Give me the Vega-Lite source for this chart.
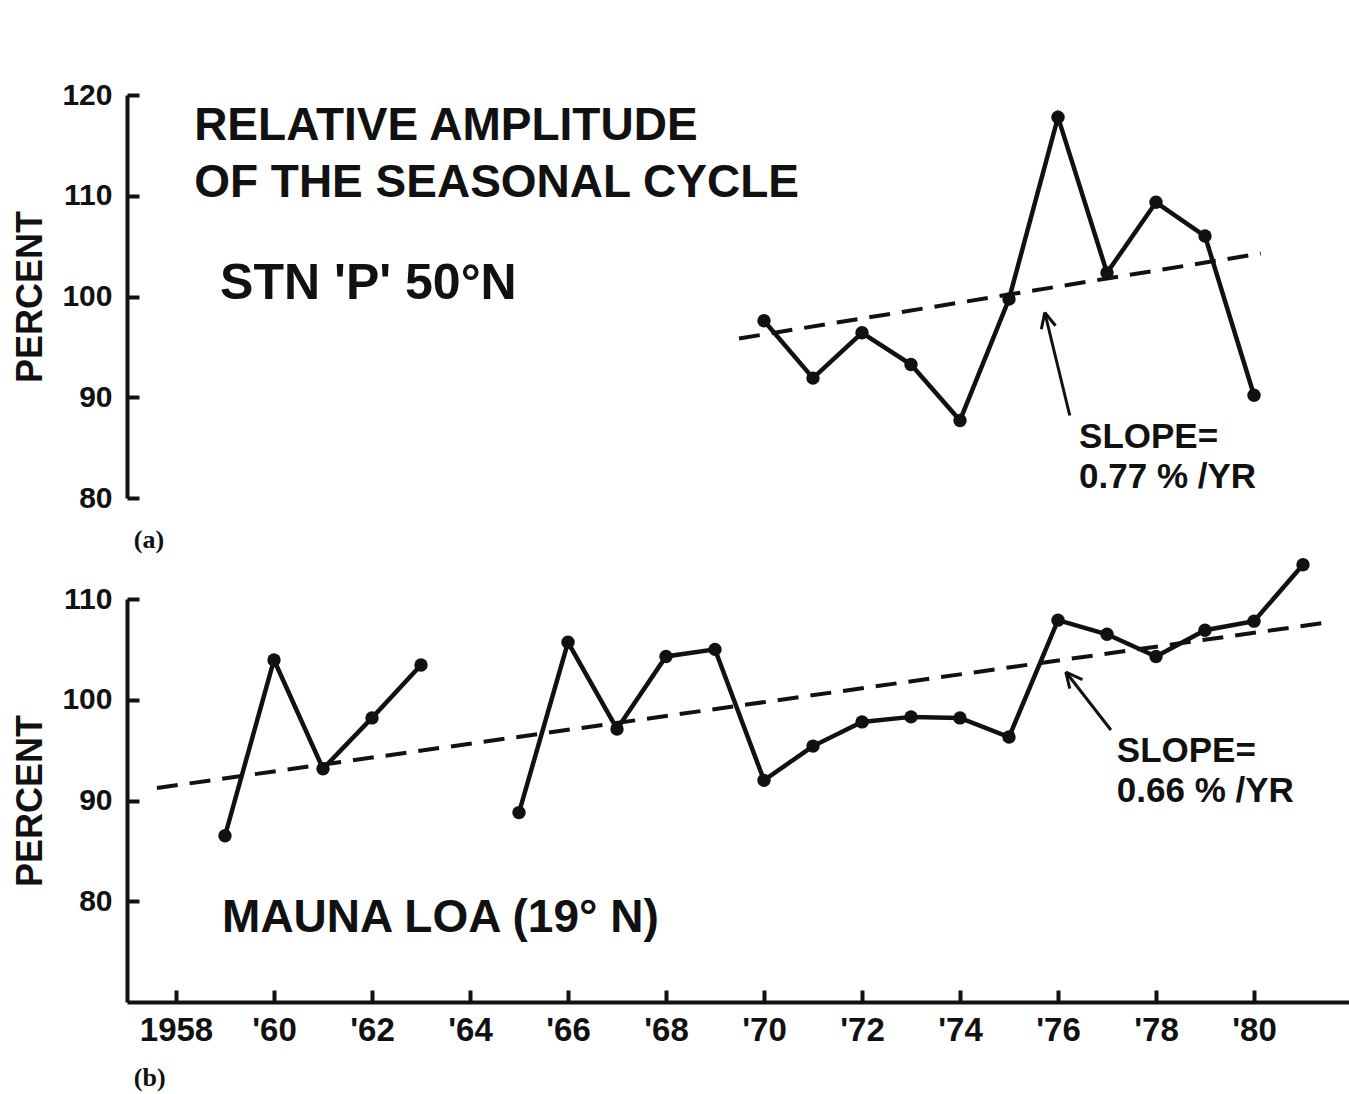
{
  "$schema": "https://vega.github.io/schema/vega-lite/v6.json",
  "background": "white",
  "autosize": {"type": "pad"},
  "padding": {"left": 12, "top": 80, "right": 0, "bottom": 8},
  "config": {
    "view": {"stroke": null},
    "axis": {
      "grid": false,
      "domainColor": "#111", "domainWidth": 4,
      "tickColor": "#111", "tickWidth": 4, "tickSize": -12,
      "labelPadding": 27,
      "labelFont": "Liberation Sans", "labelFontWeight": "bold", "labelFontSize": 30, "labelColor": "#111",
      "titleFont": "Liberation Sans", "titleFontWeight": "bold", "titleFontSize": 36, "titleColor": "#111", "titlePadding": 12
    },
    "text": {"font": "Liberation Sans", "fontWeight": "bold", "color": "#111", "align": "left", "baseline": "alphabetic"}
  },
  "datasets": {
    "stationP": [
      {"year": 1970, "pct": 97.6}, {"year": 1971, "pct": 91.9}, {"year": 1972, "pct": 96.4},
      {"year": 1973, "pct": 93.25}, {"year": 1974, "pct": 87.7}, {"year": 1975, "pct": 99.75},
      {"year": 1976, "pct": 117.8}, {"year": 1977, "pct": 102.35}, {"year": 1978, "pct": 109.35},
      {"year": 1979, "pct": 106.0}, {"year": 1980, "pct": 90.2}
    ],
    "trendTop": [{"year": 1969.49, "pct": 95.83}, {"year": 1980.14, "pct": 104.27}],
    "arrowTop": [
      {"year": 1976.24, "pct": 88.19, "year2": 1975.73, "pct2": 98.41},
      {"year": 1975.73, "pct": 98.41, "year2": 1975.66, "pct2": 96.75},
      {"year": 1975.73, "pct": 98.41, "year2": 1975.95, "pct2": 97.1}
    ],
    "titleTop": [
      {"year": 1958.37, "pct": 115.58, "label": "RELATIVE AMPLITUDE"},
      {"year": 1958.37, "pct": 109.83, "label": "OF THE SEASONAL CYCLE"}
    ],
    "stationTop": [{"year": 1958.9, "pct": 99.8, "label": "STN 'P' 50°N"}],
    "slopeTop": [
      {"year": 1976.43, "pct": 85.01, "label": "SLOPE="},
      {"year": 1976.43, "pct": 81.04, "label": "0.77 % /YR"}
    ],
    "tagTop": [{"year": 1957.14, "pct": 74.99, "label": "(a)"}],
    "maunaLoa": [
      {"year": 1959, "pct": 86.5, "seg": "1959-63"}, {"year": 1960, "pct": 103.95, "seg": "1959-63"},
      {"year": 1961, "pct": 93.15, "seg": "1959-63"}, {"year": 1962, "pct": 98.2, "seg": "1959-63"},
      {"year": 1963, "pct": 103.45, "seg": "1959-63"},
      {"year": 1965, "pct": 88.8, "seg": "1965-81"}, {"year": 1966, "pct": 105.7, "seg": "1965-81"},
      {"year": 1967, "pct": 97.1, "seg": "1965-81"}, {"year": 1968, "pct": 104.3, "seg": "1965-81"},
      {"year": 1969, "pct": 105.0, "seg": "1965-81"}, {"year": 1970, "pct": 92.0, "seg": "1965-81"},
      {"year": 1971, "pct": 95.4, "seg": "1965-81"}, {"year": 1972, "pct": 97.8, "seg": "1965-81"},
      {"year": 1973, "pct": 98.3, "seg": "1965-81"}, {"year": 1974, "pct": 98.2, "seg": "1965-81"},
      {"year": 1975, "pct": 96.3, "seg": "1965-81"}, {"year": 1976, "pct": 107.9, "seg": "1965-81"},
      {"year": 1977, "pct": 106.5, "seg": "1965-81"}, {"year": 1978, "pct": 104.3, "seg": "1965-81"},
      {"year": 1979, "pct": 106.9, "seg": "1965-81"}, {"year": 1980, "pct": 107.8, "seg": "1965-81"},
      {"year": 1981, "pct": 113.4, "seg": "1965-81"}
    ],
    "trendBottom": [{"year": 1957.61, "pct": 91.24}, {"year": 1981.39, "pct": 107.6}],
    "arrowBottom": [
      {"year": 1977.08, "pct": 97.0, "year2": 1976.16, "pct2": 102.75},
      {"year": 1976.16, "pct": 102.75, "year2": 1976.24, "pct2": 101.1},
      {"year": 1976.16, "pct": 102.75, "year2": 1976.5, "pct2": 102.0}
    ],
    "stationBottom": [{"year": 1958.94, "pct": 76.95, "label": "MAUNA LOA (19° N)"}],
    "slopeBottom": [
      {"year": 1977.2, "pct": 93.82, "label": "SLOPE="},
      {"year": 1977.2, "pct": 89.85, "label": "0.66 % /YR"}
    ],
    "tagBottom": [{"year": 1957.14, "pct": 61.7, "label": "(b)"}]
  },
  "bounds": "flush",
  "spacing": 101,
  "vconcat": [
    {
      "width": 1225,
      "height": 403,
      "encoding": {
        "x": {"field": "year", "type": "quantitative", "scale": {"domain": [1957, 1982], "nice": false, "zero": false}, "axis": null},
        "y": {"field": "pct", "type": "quantitative", "scale": {"domain": [80, 120], "nice": false, "zero": false},
              "axis": {"title": "PERCENT", "values": [80, 90, 100, 110, 120]}}
      },
      "layer": [
        {"data": {"name": "trendTop"}, "mark": {"type": "line", "color": "#111", "strokeWidth": 4, "strokeDash": [21, 12]}},
        {"data": {"name": "stationP"}, "mark": {"type": "line", "color": "#111", "strokeWidth": 4.5, "point": {"filled": true, "size": 180, "color": "#111", "opacity": 1}}},
        {"data": {"name": "arrowTop"}, "mark": {"type": "rule", "color": "#111", "strokeWidth": 3},
         "encoding": {"x2": {"field": "year2"}, "y2": {"field": "pct2"}}},
        {"data": {"name": "titleTop"}, "mark": {"type": "text", "fontSize": 46},
         "encoding": {"text": {"field": "label"}}},
        {"data": {"name": "stationTop"}, "mark": {"type": "text", "fontSize": 50},
         "encoding": {"text": {"field": "label"}}},
        {"data": {"name": "slopeTop"}, "mark": {"type": "text", "fontSize": 35},
         "encoding": {"text": {"field": "label"}}},
        {"data": {"name": "tagTop"}, "mark": {"type": "text", "font": "Liberation Serif", "fontSize": 26},
         "encoding": {"text": {"field": "label"}}}
      ]
    },
    {
      "width": 1225,
      "height": 403,
      "encoding": {
        "x": {"field": "year", "type": "quantitative", "scale": {"domain": [1957, 1982], "nice": false, "zero": false},
              "axis": {"title": null, "values": [1958, 1960, 1962, 1964, 1966, 1968, 1970, 1972, 1974, 1976, 1978, 1980],
                       "format": "d", "labelFontSize": 33, "labelPadding": 24,
                       "labelExpr": "datum.value === 1958 ? datum.label : \"'\" + substring(datum.label, 2)"}},
        "y": {"field": "pct", "type": "quantitative", "scale": {"domain": [70, 110], "nice": false, "zero": false},
              "axis": {"title": "PERCENT", "values": [80, 90, 100, 110]}}
      },
      "layer": [
        {"data": {"name": "trendBottom"}, "mark": {"type": "line", "color": "#111", "strokeWidth": 4, "strokeDash": [21, 12]}},
        {"data": {"name": "maunaLoa"}, "mark": {"type": "line", "color": "#111", "strokeWidth": 4.5, "point": {"filled": true, "size": 180, "color": "#111", "opacity": 1}},
         "encoding": {"detail": {"field": "seg"}}},
        {"data": {"name": "arrowBottom"}, "mark": {"type": "rule", "color": "#111", "strokeWidth": 3},
         "encoding": {"x2": {"field": "year2"}, "y2": {"field": "pct2"}}},
        {"data": {"name": "stationBottom"}, "mark": {"type": "text", "fontSize": 46},
         "encoding": {"text": {"field": "label"}}},
        {"data": {"name": "slopeBottom"}, "mark": {"type": "text", "fontSize": 35},
         "encoding": {"text": {"field": "label"}}},
        {"data": {"name": "tagBottom"}, "mark": {"type": "text", "font": "Liberation Serif", "fontSize": 26},
         "encoding": {"text": {"field": "label"}}}
      ]
    }
  ]
}
